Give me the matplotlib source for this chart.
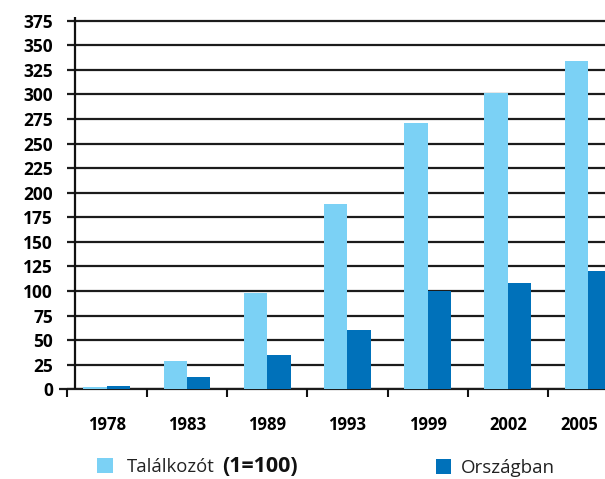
import matplotlib
matplotlib.use("Agg")
import matplotlib.pyplot as plt
import matplotlib.transforms as mtransforms
from matplotlib.patches import Rectangle
import numpy as np

years = ["1978", "1983", "1989", "1993", "1999", "2002", "2005"]
talalkozot = [2, 29, 98, 189, 271, 301, 334]
orszagban = [3.5, 13, 35, 60, 100, 108, 120]
yticks = [0, 25, 50, 75, 100, 125, 150, 175, 200, 225, 250, 275, 300, 325, 350, 375]
legend_labels = ["Találkozót", "(1=100)", "Országban"]

light = "#7BD1F5"
dark = "#0071BA"
fam = ["Open Sans", "DejaVu Sans"]

W, H = 605, 479
fig = plt.figure(figsize=(W / 100, H / 100), dpi=100)
x0 = 66.7
y0 = 389.3
pxu = 80.2
pyu = 0.983
ytop = 380
ax = fig.add_axes([x0 / W, (H - y0) / H, (W - x0) / W, ytop * pyu / H])
xmax = -0.5 + (W - x0) / pxu
ax.set_xlim(-0.5, xmax)
ax.set_ylim(0, ytop)
for s in ax.spines.values():
    s.set_visible(False)

# gridlines (below bars)
ax.hlines(yticks, -0.5, xmax, colors="#1c1c1c", linewidth=1.6, zorder=1)
ax.hlines([0], -0.6, xmax, colors="#1c1c1c", linewidth=1.6, zorder=1, clip_on=False)
# vertical axis line
ax.vlines([-0.4], 0, 379, colors="#111111", linewidth=1.6, zorder=3, clip_on=False)

idx = np.arange(len(years))
bw = 0.293
ax.bar(idx - bw / 2, talalkozot, width=bw, color=light, zorder=2)
ax.bar(idx + bw / 2, orszagban, width=bw, color=dark, zorder=2)

ax.set_yticks(yticks)
ax.set_yticklabels([str(v) for v in yticks], fontfamily=fam, fontweight="bold", fontsize=12.5)
ax.tick_params(axis="y", length=0, pad=10)

ax.set_xticks(idx)
ax.set_xticklabels(years, fontfamily=fam, fontweight="bold", fontsize=12)
ax.tick_params(axis="x", which="major", length=0, pad=19)
ax.set_xticks(np.arange(-0.5, 6.0, 1.0), minor=True)
ax.tick_params(axis="x", which="minor", length=6, width=1.5, color="#111111", direction="out")

# shift the last year label left so it stays inside the figure, as in the reference
last = ax.get_xticklabels()[-1]
last.set_transform(last.get_transform() + mtransforms.ScaledTranslation(-9 / 100, 0, fig.dpi_scale_trans))

# legend
fig.patches.append(Rectangle((97 / W, (H - 473) / H), 16 / W, 15 / H, transform=fig.transFigure,
                             facecolor=light, edgecolor="none"))
fig.text(127 / W, (H - 467) / H, legend_labels[0], fontfamily=fam, fontsize=13.3,
         va="center", ha="left", color="#222222")
fig.text(222 / W, (H - 467) / H, legend_labels[1], fontfamily=fam, fontsize=15.5,
         fontweight="bold", va="center", ha="left", color="#111111")
fig.patches.append(Rectangle((436 / W, (H - 474) / H), 15 / W, 15 / H, transform=fig.transFigure,
                             facecolor=dark, edgecolor="none"))
fig.text(461 / W, (H - 468) / H, legend_labels[2], fontfamily=fam, fontsize=13.5,
         va="center", ha="left", color="#222222")

fig.savefig("out.png", dpi=100)
